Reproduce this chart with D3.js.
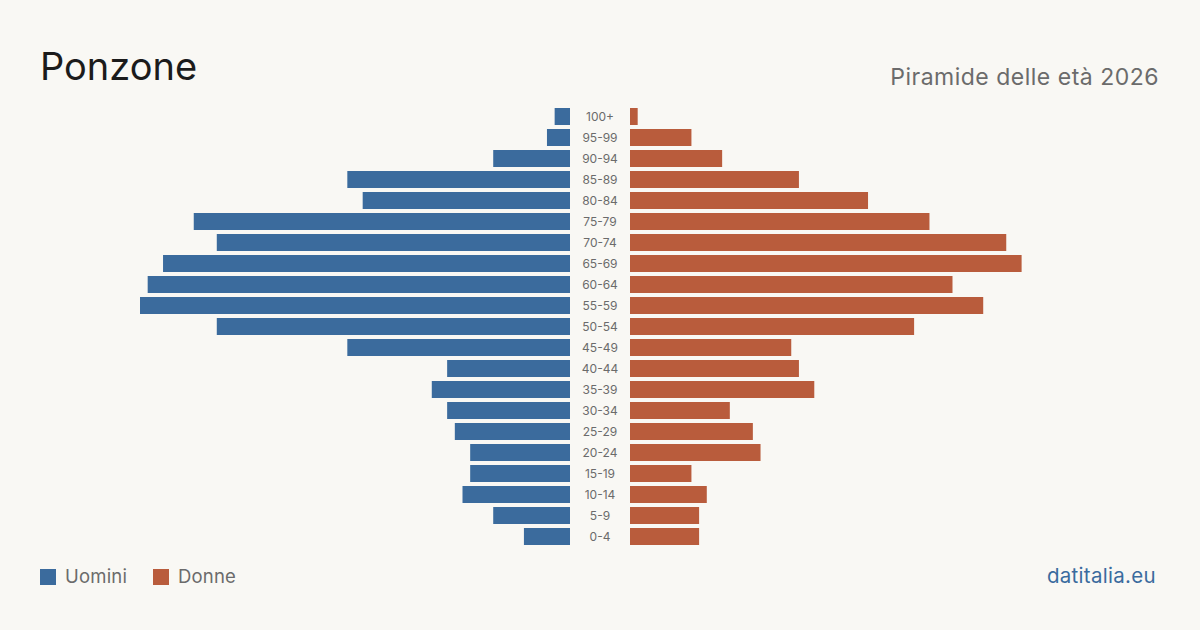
<!DOCTYPE html>
<html>

<head>
    <meta charset="utf-8">
    <style>
        body {
            margin: 0;
            background: #f9f8f4;
        }

        svg text {
            font-family: Inter, "Noto Sans", sans-serif;
        }

        .title {
            fill: #1b1b1b;
            font-size: 38px;
        }

        .subtitle {
            fill: #6b6b6b;
            font-size: 23px;
            letter-spacing: 0.5px;
            text-anchor: end;
        }

        .age {
            fill: #6b6b6b;
            font-size: 12px;
            text-anchor: middle;
        }

        .legend text {
            fill: #6b6b6b;
            font-size: 18.5px;
            letter-spacing: 0.2px;
        }

        .source {
            fill: #3a6b9e;
            font-size: 20.5px;
            letter-spacing: 0.3px;
            text-anchor: end;
        }
    </style>
    <script src="https://d3js.org/d3.v7.min.js"></script>
    <title>Ponzone - Piramide delle età 2026</title>
</head>

<body>
    <svg id="chart" width="1200" height="630"></svg>
    <script>
        var ages = ["100+", "95-99", "90-94", "85-89", "80-84", "75-79", "70-74", "65-69", "60-64", "55-59",
            "50-54", "45-49", "40-44", "35-39", "30-34", "25-29", "20-24", "15-19", "10-14", "5-9", "0-4"];
        var uomini = [2, 3, 10, 29, 27, 49, 46, 53, 55, 56, 46, 29, 16, 18, 16, 15, 13, 13, 14, 10, 6];
        var donne = [1, 8, 12, 22, 31, 39, 49, 51, 42, 46, 37, 21, 22, 24, 13, 16, 17, 8, 10, 9, 9];

        var blue = "#3b6b9d",
            orange = "#b95c3c";

        var svg = d3.select("#chart");

        svg.append("rect")
            .attr("width", 1200).attr("height", 630)
            .attr("fill", "#f9f8f4");

        svg.append("text")
            .attr("class", "title")
            .attr("x", 40).attr("y", 80)
            .text("Ponzone");

        svg.append("text")
            .attr("class", "subtitle")
            .attr("x", 1159).attr("y", 85)
            .text("Piramide delle età 2026");

        // scales
        var y = d3.scaleBand()
            .domain(ages)
            .range([106, 547])
            .paddingInner(4 / 21)
            .paddingOuter(2 / 21);

        var maxVal = d3.max(uomini.concat(donne));
        var x = d3.scaleLinear().domain([0, maxVal]).range([0, 430]);

        var leftEdge = 570,
            rightEdge = 630,
            mid = 600;

        var rows = ages.map(function (a, i) {
            return { age: a, m: uomini[i], f: donne[i] };
        });

        var g = svg.append("g");

        g.selectAll(".bar-m")
            .data(rows)
            .enter()
            .append("rect")
            .attr("class", "bar-m")
            .attr("x", function (d) { return leftEdge - x(d.m); })
            .attr("y", function (d) { return y(d.age); })
            .attr("width", function (d) { return x(d.m); })
            .attr("height", y.bandwidth())
            .attr("fill", blue);

        g.selectAll(".bar-f")
            .data(rows)
            .enter()
            .append("rect")
            .attr("class", "bar-f")
            .attr("x", rightEdge)
            .attr("y", function (d) { return y(d.age); })
            .attr("width", function (d) { return x(d.f); })
            .attr("height", y.bandwidth())
            .attr("fill", orange);

        g.selectAll(".age")
            .data(rows)
            .enter()
            .append("text")
            .attr("class", "age")
            .attr("x", mid)
            .attr("y", function (d) { return y(d.age) + y.bandwidth() / 2; })
            .attr("dy", "0.36em")
            .text(function (d) { return d.age; });

        // legend
        var legend = svg.append("g").attr("class", "legend");
        var items = [
            { label: "Uomini", color: blue, x: 40 },
            { label: "Donne", color: orange, x: 153 }
        ];
        var li = legend.selectAll("g")
            .data(items)
            .enter()
            .append("g")
            .attr("transform", function (d) { return "translate(" + d.x + ",569)"; });
        li.append("rect")
            .attr("width", 16).attr("height", 16)
            .attr("fill", function (d) { return d.color; });
        li.append("text")
            .attr("x", 25).attr("y", 14)
            .text(function (d) { return d.label; });

        svg.append("text")
            .attr("class", "source")
            .attr("x", 1156).attr("y", 583)
            .text("datitalia.eu");
    </script>
</body>

</html>
